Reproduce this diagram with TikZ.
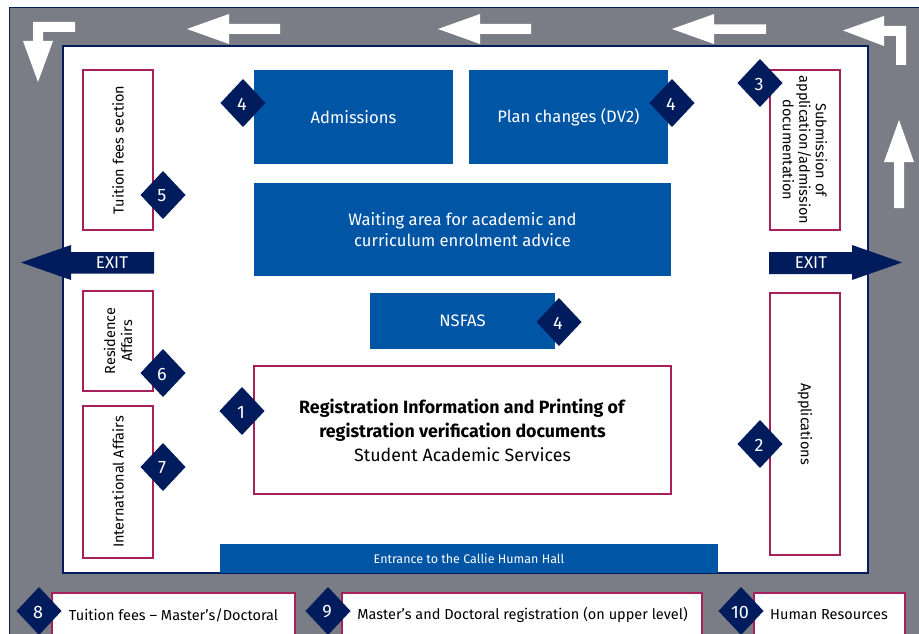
\documentclass[tikz,border=0pt]{standalone}
\usepackage{fontspec}
\setmainfont{Fira Sans}
\definecolor{navy}{HTML}{001C5C}
\definecolor{uniblue}{HTML}{0055A5}
\definecolor{wallgray}{HTML}{7A7D85}
\definecolor{crimson}{HTML}{A6215C}
\tikzset{
  rbox/.style={draw=crimson,line width=1.4pt,fill=white,inner sep=0pt,align=center,text=black,font=\fontsize{14.5}{16}\selectfont},
  bbox/.style={fill=uniblue,inner sep=0pt,align=center,text=white,font=\fontsize{16.6}{21}\selectfont},
  bottomlabel/.style={text=black,inner sep=0pt,font=\fontsize{14.5}{16}\selectfont},
  bottombox/.style={fill=white,draw=crimson,line width=1.4pt},
  dia/.style={fill=navy,text=white,inner sep=0pt,font=\fontsize{18}{20}\selectfont},
  wayarrow/.style={fill=white,draw=none},
  exitarrow/.style={fill=navy,draw=none},
  exitlabel/.style={text=white,inner sep=0pt,font=\fontsize{17}{18}\selectfont},
}
\newcommand{\mkdia}[4]{%
  \fill[navy] (#2-22.5,#3) -- (#2,#3-24) -- (#2+22.5,#3) -- (#2,#3+24) -- cycle;
  \node[dia] (#1) at (#2-1,#3+1) {#4};}
\begin{document}
\begin{tikzpicture}[x=1pt,y=-1pt]
\useasboundingbox (0,0) rectangle (919,634);
% walls
\fill[white] (0,0) rectangle (919,634);
\filldraw[fill=wallgray,draw=navy,line width=1.5pt] (9.5,7.5) rectangle (925,640);
\filldraw[fill=white,draw=navy,line width=1.5pt] (63,46) rectangle (868,573);
% way arrows
\fill[wayarrow] (187,29) -- (229,14) -- (229,24) -- (280,24) -- (280,34) -- (229,34) -- (229,44) -- cycle;
\fill[wayarrow] (438,29) -- (480,14) -- (480,24) -- (531,24) -- (531,34) -- (480,34) -- (480,44) -- cycle;
\fill[wayarrow] (672,29) -- (714,14) -- (714,24.5) -- (766,24.5) -- (766,34) -- (714,34) -- (714,44) -- cycle;
\fill[wayarrow] (843,30.5) -- (884,16) -- (884,26) -- (906,26) -- (906,65) -- (896,65) -- (896,36) -- (884,36) -- (884,46) -- cycle;
\fill[wayarrow] (899,120) -- (914,162) -- (904,162) -- (904,208) -- (894,208) -- (894,162) -- (884,162) -- cycle;
\fill[wayarrow] (75,22) -- (75,32) -- (43,32) -- (43,41) -- (53,41) -- (38,82) -- (23,41) -- (33,41) -- (33,22) -- cycle;
% exits
\fill[exitarrow] (21,262.5) -- (71,245) -- (71,252) -- (154,252) -- (154,273.5) -- (71,273.5) -- (71,280) -- cycle;
\fill[exitarrow] (902,262.5) -- (852,245) -- (852,252) -- (769,252) -- (769,274) -- (852,274) -- (852,280) -- cycle;
\node[exitlabel] (exitl) at (112,263) {EXIT};
\node[exitlabel] (exitr) at (811,263) {EXIT};
% blue areas
\node[bbox,minimum width=199pt,minimum height=94pt] (adm) at (353.5,117) {\raisebox{-1pt}{Admissions}};
\node[bbox,minimum width=199pt,minimum height=94pt] (plan) at (568.5,117) {\raisebox{-1pt}{Plan changes (DV2)}};
\node[bbox,minimum width=417pt,minimum height=93pt] (wait) at (462.5,229.5) {Waiting area for academic and\\curriculum enrolment advice};
\node[bbox,minimum width=185pt,minimum height=56pt] (nsfas) at (462.5,321) {\raisebox{-1pt}{NSFAS}};
\node[bbox,minimum width=498pt,minimum height=29pt,font=\fontsize{12.5}{14}\selectfont] (ent) at (469,558.5) {Entrance to the Callie Human Hall};
% crimson boxes
\node[rbox,rotate=90,minimum width=160pt,minimum height=70pt] (tf) at (118,150) {Tuition fees section};
\node[rbox,rotate=90,minimum width=100pt,minimum height=70pt,font=\fontsize{14.5}{17}\selectfont] (res) at (118,341) {Residence\\Affairs};
\node[rbox,rotate=90,minimum width=152pt,minimum height=70pt] (intl) at (118,482) {International Affairs};
\node[rbox,rotate=-90,minimum width=160pt,minimum height=70pt,font=\fontsize{14.5}{16.5}\selectfont] (sub) at (805,150) {Submission of\\application/admission\\documentation};
\node[rbox,rotate=-90,minimum width=262pt,minimum height=70pt] (app) at (805,424) {Applications};
\node[rbox,minimum width=417pt,minimum height=128pt,font=\fontsize{17.8}{24}\selectfont] (reg) at (462.5,430) {\textbf{Registration Information and Printing of}\\\textbf{registration verification documents}\\Student Academic Services};
% bottom boxes
\filldraw[bottombox] (52,593) rectangle (295,640);
\filldraw[bottombox] (342,593) rectangle (702,640);
\filldraw[bottombox] (754,593) rectangle (905,640);
\node[bottomlabel] (b8) at (173.5,615) {Tuition fees – Master’s/Doctoral};
\node[bottomlabel] (b9) at (522.5,615) {Master’s and Doctoral registration (on upper level)};
\node[bottomlabel] (b10) at (829,615) {Human Resources};
% badges
\mkdia{d1}{242}{411}{1}
\mkdia{d2}{760}{444}{2}
\mkdia{d3}{760}{83}{3}
\mkdia{d4a}{243}{103}{4}
\mkdia{d4b}{672}{103}{4}
\mkdia{d4c}{559}{322}{4}
\mkdia{d5}{163}{195}{5}
\mkdia{d6}{163}{373}{6}
\mkdia{d7}{163}{467}{7}
\mkdia{d8}{39}{611}{8}
\mkdia{d9}{328}{611}{9}
\mkdia{d10}{741}{611}{10}
\end{tikzpicture}
\end{document}
